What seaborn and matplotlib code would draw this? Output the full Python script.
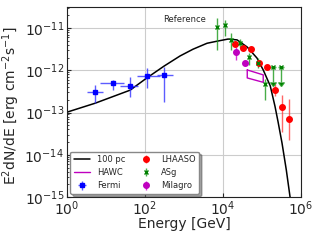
"""Gamma-ray SED with model curve and data points."""

import matplotlib
matplotlib.use("Agg")
import matplotlib.pyplot as plt
import matplotlib.ticker as mticker
import seaborn as sns
import numpy as np

# Model curve (100 pc)
model_e = [1, 5.25, 41.7, 112, 309, 794, 1700, 3890, 7080, 1.35e4, 2.29e4,
           4.17e4, 7.41e4, 1.07e5, 1.62e5, 2.14e5, 2.57e5, 3.24e5, 4.17e5, 5.25e5]
model_f = [1.02e-13, 1.66e-13, 3.39e-13, 6.61e-13, 1.26e-12, 2.19e-12, 3.16e-12,
           4.37e-12, 4.9e-12, 5.5e-12, 5.25e-12, 3.55e-12, 1.95e-12, 1.02e-12,
           4.27e-13, 1.41e-13, 6.0e-14, 1.9e-14, 4.4e-15, 9.5e-16]

# Fermi
fermi_e = [5.25, 15.1, 41.7, 112, 309]
fermi_e_lo = [3.2, 7.1, 23, 62, 204]
fermi_e_hi = [8.3, 29, 66, 240, 525]
fermi_f = [3.1e-13, 5.0e-13, 4.3e-13, 7.2e-13, 7.8e-13]
fermi_f_lo = [1.7e-13, 3.4e-13, 2.35e-13, 3.8e-13, 1.8e-13]
fermi_f_hi = [4.6e-13, 5.9e-13, 7.0e-13, 1.12e-12, 1.2e-12]

# LHAASO
lhaaso_e = [2.04e4, 3.24e4, 5.25e4, 8.3e4, 1.35e5, 2.14e5, 3.24e5, 4.9e5]
lhaaso_f = [4.17e-12, 3.39e-12, 3.16e-12, 1.48e-12, 1.2e-12, 3.39e-13, 1.35e-13, 7.1e-14]
lhaaso_f_lo = [3.7e-12, 3.0e-12, 2.8e-12, 1.32e-12, 1.07e-12, 2.45e-13, 3.5e-14, 2.2e-14]
lhaaso_f_hi = [4.7e-12, 3.8e-12, 3.55e-12, 1.66e-12, 1.35e-12, 4.68e-13, 2.57e-13, 2.1e-13]

# ASg
asg_e = [7.08e3, 1.12e4, 1.62e4, 2.75e4, 4.68e4, 7.94e4, 1.2e5]
asg_f = [1.05e-11, 1.17e-11, 5.2e-12, 4.4e-12, 2.04e-12, 1.48e-12, 4.7e-13]
asg_f_lo = [3.0e-12, 6.5e-12, 3.0e-12, 3.4e-12, 1.32e-12, 1.12e-12, 2.0e-13]
asg_f_hi = [1.74e-11, 1.55e-11, 7.6e-12, 5.5e-12, 2.57e-12, 1.95e-12, 6.2e-13]
asg_ul_e = [1.91e5, 3.09e5]
asg_ul_f = [1.2e-12, 1.2e-12]
asg_ul_lo = [5.2e-13, 5.2e-13]

# Milagro
milagro_e = [2.09e4, 3.55e4]
milagro_f = [2.7e-12, 1.48e-12]
milagro_f_lo = [1.74e-12, 1.36e-12]
milagro_f_hi = [3.55e-12, 1.6e-12]

# HAWC butterfly
hawc_e = [4.17e4, 1.07e5, 1.07e5, 4.17e4, 4.17e4]
hawc_f = [1.02e-12, 7.8e-13, 5.2e-13, 6.6e-13, 1.02e-12]


def asym(vals, lo, hi):
    vals = np.asarray(vals)
    return [vals - np.asarray(lo), np.asarray(hi) - vals]


sns.set_style("ticks")
plt.rcParams['font.family'] = ['DejaVu Sans']

fig = plt.figure(figsize=(3.2, 2.4), dpi=100)
ax = fig.add_axes([0.209, 0.179, 0.732, 0.792])

sns.lineplot(x=model_e, y=model_f, ax=ax, color='k', lw=1.1, sort=False,
             estimator=None, label='100 pc')
ax.plot(hawc_e, hawc_f, color='m', lw=1, label='HAWC')

ax.errorbar(fermi_e, fermi_f, yerr=asym(fermi_f, fermi_f_lo, fermi_f_hi),
            xerr=asym(fermi_e, fermi_e_lo, fermi_e_hi), fmt='s', color='b',
            ecolor=(0.2, 0.2, 1, 0.8), ms=3.5, elinewidth=1, label='Fermi')
ax.errorbar(lhaaso_e, lhaaso_f, yerr=asym(lhaaso_f, lhaaso_f_lo, lhaaso_f_hi),
            fmt='o', color='r', ecolor=(1, 0.2, 0.2, 0.75), ms=4, elinewidth=1,
            label='LHAASO')
ax.errorbar(asg_e, asg_f, yerr=asym(asg_f, asg_f_lo, asg_f_hi), fmt='x',
            color='g', ecolor=(0.1, 0.6, 0.1, 0.8), ms=3.5, mew=1,
            elinewidth=1, label='ASg')
ax.errorbar(asg_ul_e, asg_ul_f,
            yerr=np.asarray(asg_ul_f) - np.asarray(asg_ul_lo), uplims=True,
            fmt='x', color='g', ecolor=(0.1, 0.6, 0.1, 0.8), ms=3.5, mew=1,
            elinewidth=1, capsize=2)
ax.errorbar(milagro_e, milagro_f, yerr=asym(milagro_f, milagro_f_lo, milagro_f_hi),
            fmt='o', color='m', ecolor=(0.8, 0, 0.8, 0.8), ms=4, elinewidth=1,
            label='Milagro')

ax.set_xscale('log')
ax.set_yscale('log')
ax.set_xlim(1, 1e6)
ax.set_ylim(1e-15, 10 ** -10.5)
ax.set_xticks([1, 1e2, 1e4, 1e6])
ax.xaxis.set_minor_locator(mticker.NullLocator())
ax.yaxis.set_major_locator(mticker.LogLocator(base=10, numticks=10))
ax.grid(True, which='major', color='#cccccc', lw=0.8)
ax.tick_params(which='both', direction='in', labelsize=10, pad=2)
ax.tick_params(which='major', length=3)
ax.tick_params(which='minor', length=1.5)
for s in ax.spines.values():
    s.set_color('#222222')
    s.set_linewidth(0.8)

ax.set_xlabel('Energy [GeV]', fontsize=10)
ax.xaxis.set_label_coords(0.5, -0.105)
ax.set_ylabel(r'E$^2$dN/dE [erg cm$^{-2}$s$^{-1}$]', fontsize=10)
ax.yaxis.set_label_coords(-0.19, 0.48)
ax.text(0.41, 0.935, 'Reference', transform=ax.transAxes, fontsize=6,
        va='center', ha='left')

ax.legend(loc='lower left', ncol=2, fontsize=6, shadow=True, fancybox=True,
          framealpha=1, labelspacing=0.5, columnspacing=1.5,
          borderaxespad=0.4, edgecolor='#888888')

fig.savefig('out.png', dpi=100)
